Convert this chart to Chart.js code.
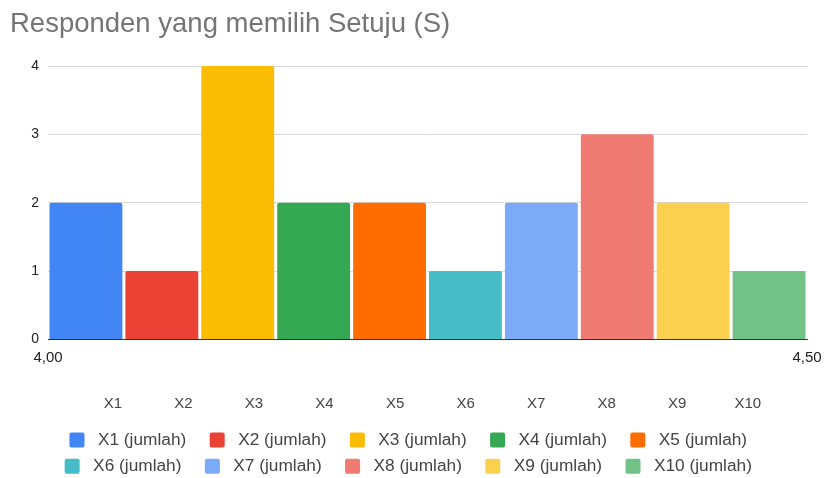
<!DOCTYPE html>
<html>
<head>
<meta charset="utf-8">
<script src="https://cdn.jsdelivr.net/npm/chart.js@4/dist/chart.umd.min.js"></script>
<style>
  body { margin: 0; background: #fff; }
  .wrap { width: 825px; height: 478px; }
</style>
</head>
<body>
<div class="wrap"><canvas id="chart"></canvas></div>
<script>
// data
const chartTitle = 'Responden yang memilih Setuju (S)'
const seriesNames = ['X1 (jumlah)', 'X2 (jumlah)', 'X3 (jumlah)', 'X4 (jumlah)', 'X5 (jumlah)',
  'X6 (jumlah)', 'X7 (jumlah)', 'X8 (jumlah)', 'X9 (jumlah)', 'X10 (jumlah)']
const seriesValues = [2, 1, 4, 2, 2, 1, 2, 3, 2, 1]
const seriesColors = ['#4285f4', '#ea4335', '#fbbc04', '#34a853', '#ff6d01',
  '#46bdc6', '#7baaf7', '#f07b72', '#fcd04f', '#71c287']
const categoryLabels = ['X1', 'X2', 'X3', 'X4', 'X5', 'X6', 'X7', 'X8', 'X9', 'X10']
const rangeTicks = [4.0, 4.5]

// config
Chart.defaults.font.family = 'Arial, "Liberation Sans", sans-serif'

const datasets = seriesNames.map((name, i) => ({
  label: name,
  data: [seriesValues[i]],
  backgroundColor: seriesColors[i],
  borderRadius: { topLeft: 2, topRight: 2 },
  borderSkipped: 'bottom',
  categoryPercentage: 1,
  barPercentage: 0.96,
}))

const noGrid = { display: false, drawTicks: false }
const nbsp = '\u00a0'

// fixed height for the extra label rows, and no side padding from their labels
const fixHeight = (h) => (s) => {
  s.height = h
  s.paddingLeft = 0
  s.paddingRight = 0
}

// legend sits a few px right of the canvas centre in the original
const legendNudge = {
  id: 'legendNudge',
  afterLayout: (chart) => {
    chart.legend.left += 7
    chart.legend.right += 7
  },
}

new Chart(document.getElementById('chart'), {
  type: 'bar',
  data: { labels: [''], datasets },
  plugins: [legendNudge],
  options: {
    responsive: true,
    maintainAspectRatio: false,
    animation: false,
    layout: { padding: { left: 10, right: 18, top: 0, bottom: -7 } },
    plugins: {
      title: {
        display: true,
        text: chartTitle,
        align: 'start',
        color: '#757575',
        font: { size: 27.5, weight: 'normal' },
        padding: { top: 8, bottom: 25 },
      },
      legend: {
        position: 'bottom',
        labels: {
          boxWidth: 15,
          boxHeight: 15,
          padding: 9,
          color: '#444',
          font: { size: 17.3 },
          useBorderRadius: true,
          borderRadius: 2,
          generateLabels: (chart) =>
            Chart.defaults.plugins.legend.labels.generateLabels(chart).map(l =>
              Object.assign(l, { text: nbsp + l.text + nbsp.repeat(3), lineWidth: 0 })),
        },
      },
      tooltip: { enabled: false },
    },
    scales: {
      x: {
        type: 'category',
        weight: 0,
        grid: noGrid,
        ticks: { display: false },
        border: { display: true, color: '#333', width: 1 },
      },
      x2: {
        type: 'linear',
        position: 'bottom',
        weight: 1,
        offset: false,
        min: 4,
        max: 4.5,
        grid: noGrid,
        border: { display: false },
        afterBuildTicks: (s) => { s.ticks = rangeTicks.map(v => ({ value: v })) },
        afterFit: fixHeight(27),
        ticks: {
          autoSkip: false, maxRotation: 0, padding: 9,
          color: '#222', font: { size: 15 },
          callback: (v) => v.toFixed(2).replace('.', ','),
        },
      },
      x3: {
        type: 'linear',
        position: 'bottom',
        weight: 2,
        offset: false,
        min: 0.08,
        max: 10.84,
        grid: noGrid,
        border: { display: false },
        afterBuildTicks: (s) => { s.ticks = categoryLabels.map((l, i) => ({ value: i + 1 })) },
        afterFit: fixHeight(56),
        ticks: {
          autoSkip: false, maxRotation: 0, padding: 28,
          color: '#444', font: { size: 15 },
          callback: (v) => categoryLabels[v - 1],
        },
      },
      y: {
        min: 0,
        max: 4,
        afterFit: (s) => { s.width = 38 },
        grid: { color: '#d9d9d9', drawTicks: false },
        border: { display: false },
        ticks: { stepSize: 1, padding: 9, color: '#222', font: { size: 14 } },
      },
    },
  },
})
</script>
</body>
</html>
